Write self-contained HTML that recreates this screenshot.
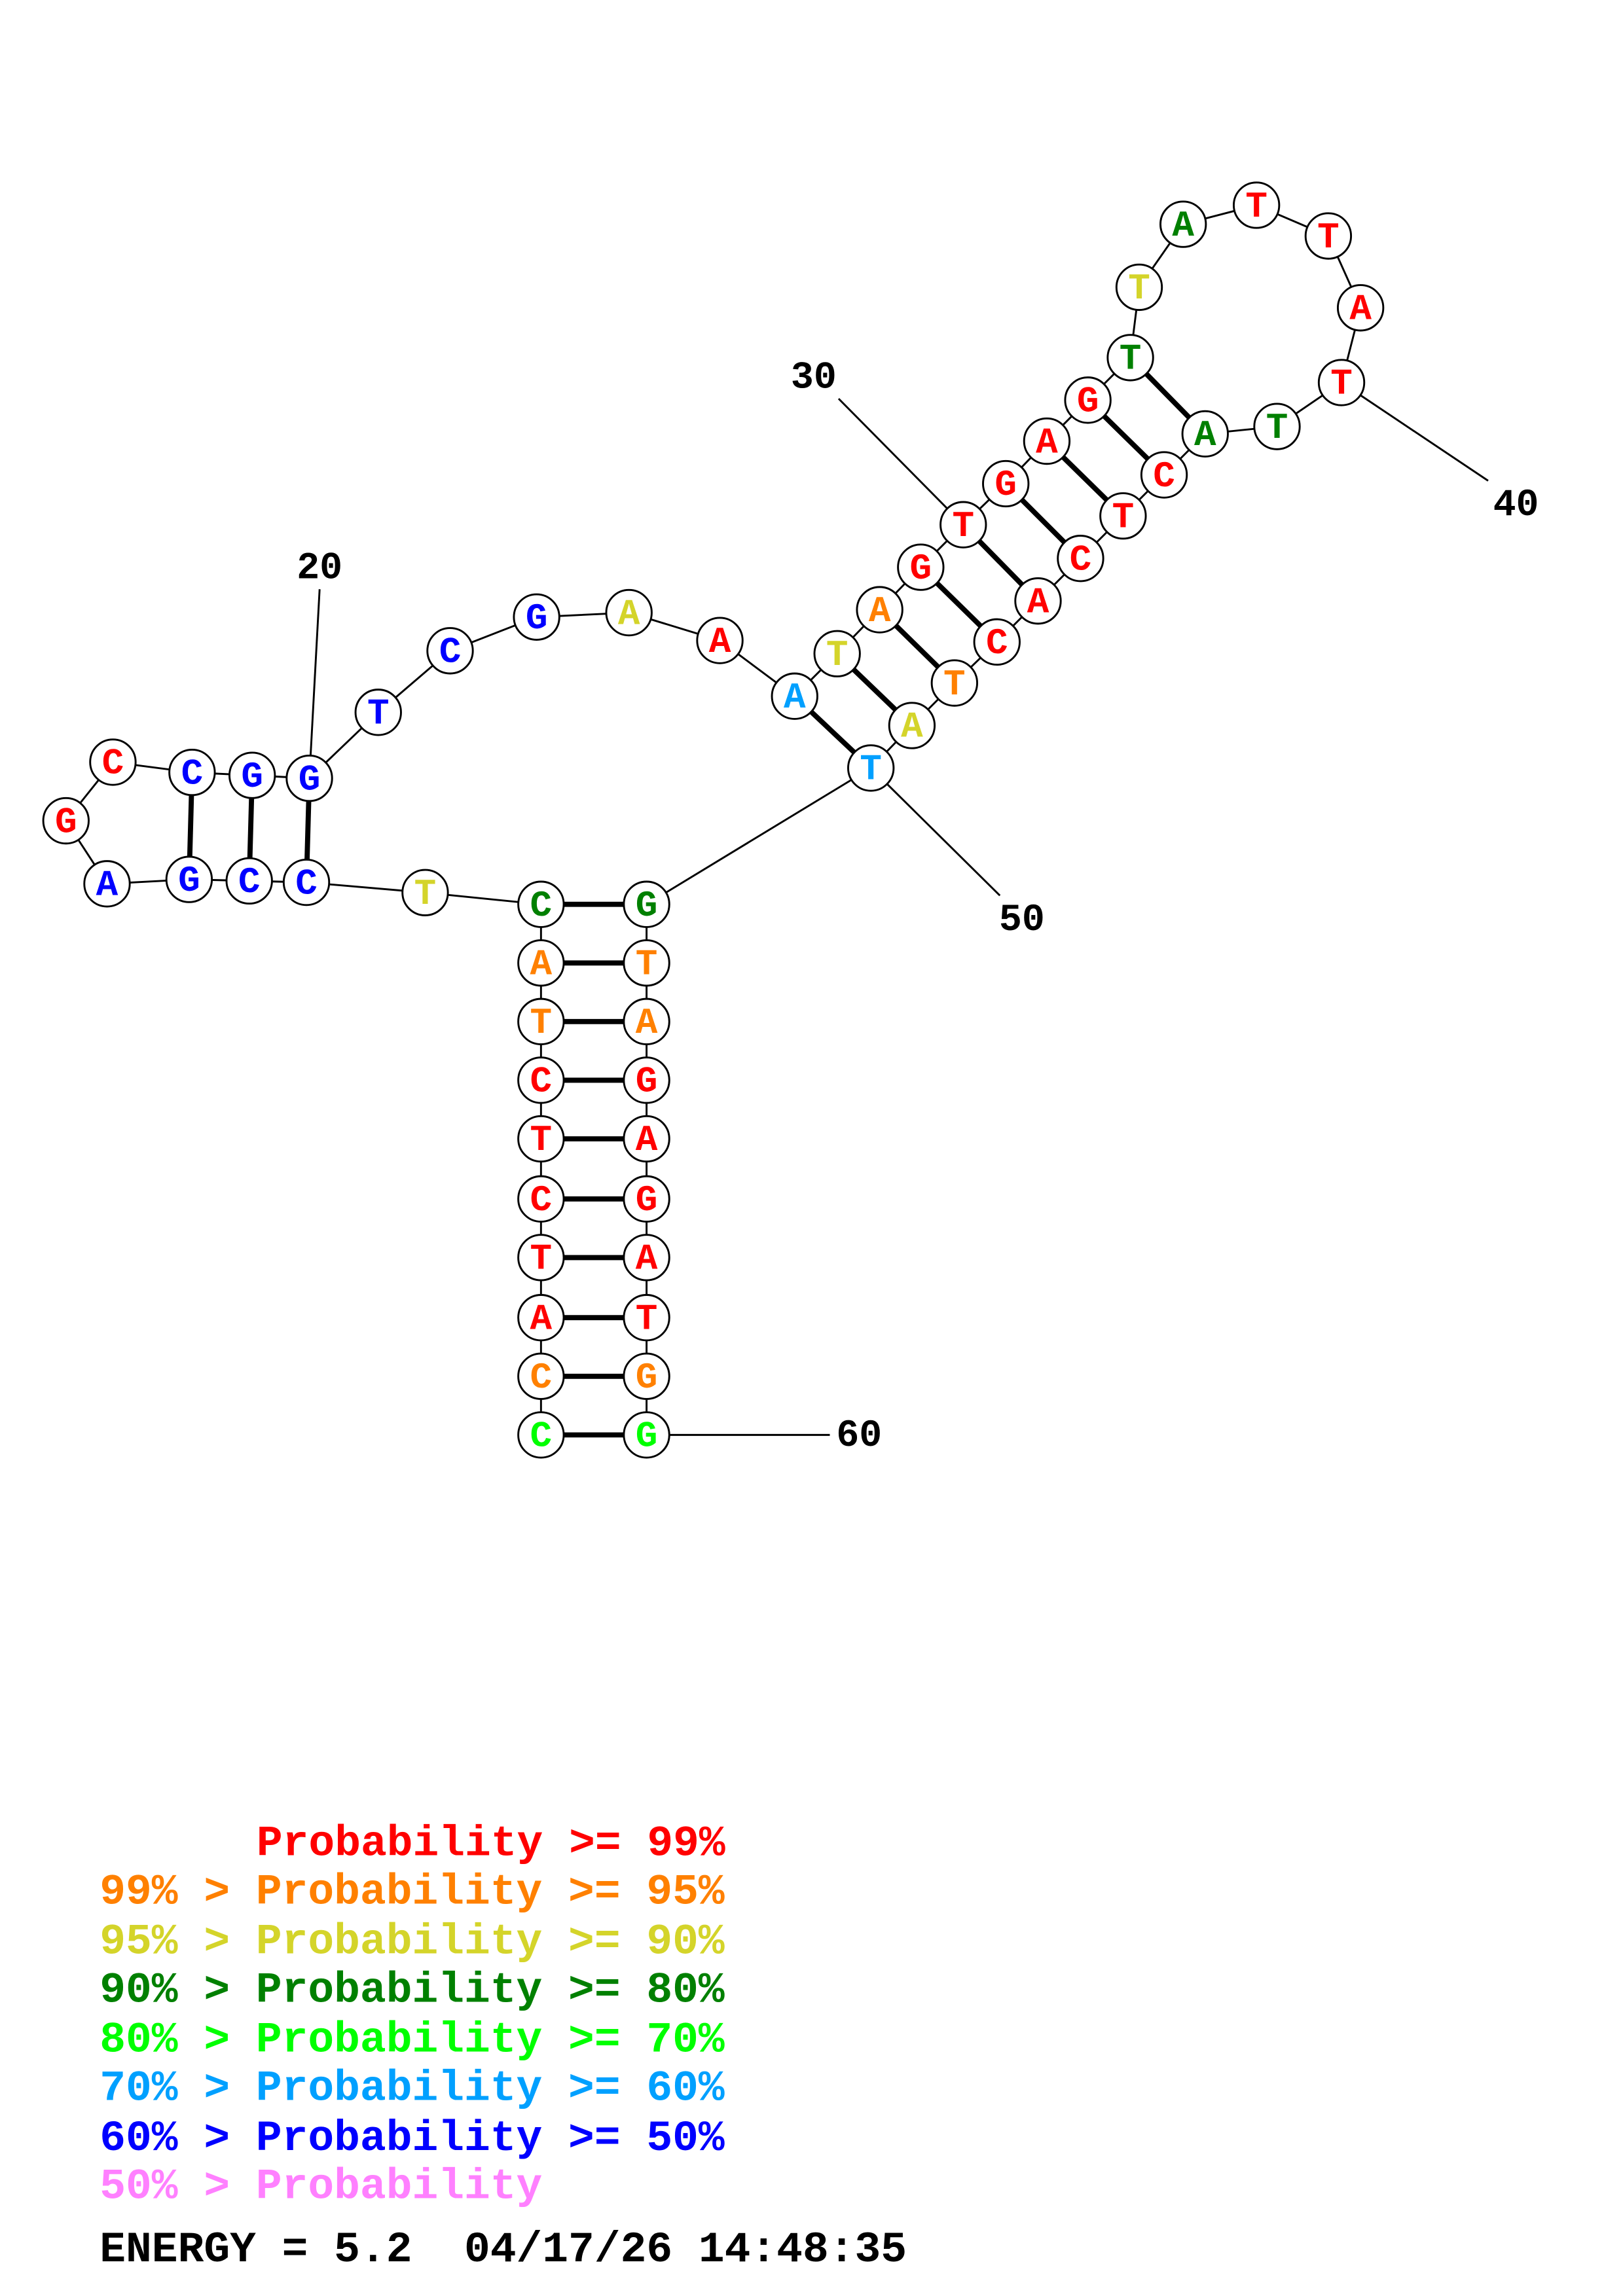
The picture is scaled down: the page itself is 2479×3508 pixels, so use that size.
<!DOCTYPE html>
<html><head><meta charset="utf-8"><style>html,body{margin:0;padding:0;background:#fff}svg{display:block}.pre{white-space:pre}</style></head><body>
<svg width="2479" height="3508" viewBox="0 0 1107 1566.5" xmlns="http://www.w3.org/2000/svg">
<g stroke="#000" fill="none" stroke-width="1.3">
<polyline points="369,979 369,939 369,899 369,858 369,818 369,777 369,737 369,697 369,657 369,617 290,609 209,602 170,601 129,600 73,603 45,560 77,520 131,527 172,529 211,531 258,486 307,444 366,421 429,418 491,437 542,475 571,446 600,416 628,387 657,358 686,330 714,301 742,273 771,244 777,196 807,153 857,140 906,161 928,210 915,261 871,291 822,296 794,324 766,352 737,381 708,410 680,438 651,466 622,495 594,524 441,617 441,657 441,697 441,737 441,777 441,818 441,858 441,899 441,939 441,979"/>
<line x1="218" y1="402" x2="211" y2="531"/>
<line x1="572" y1="272" x2="657" y2="358"/>
<line x1="915" y1="261" x2="1015" y2="328"/>
<line x1="594" y1="524" x2="682" y2="611"/>
<line x1="441" y1="979" x2="566" y2="979"/>
</g>
<g stroke="#000" stroke-width="3.5">
<line x1="369" y1="979" x2="441" y2="979"/><line x1="369" y1="939" x2="441" y2="939"/>
<line x1="369" y1="899" x2="441" y2="899"/><line x1="369" y1="858" x2="441" y2="858"/>
<line x1="369" y1="818" x2="441" y2="818"/><line x1="369" y1="777" x2="441" y2="777"/>
<line x1="369" y1="737" x2="441" y2="737"/><line x1="369" y1="697" x2="441" y2="697"/>
<line x1="369" y1="657" x2="441" y2="657"/><line x1="369" y1="617" x2="441" y2="617"/>
<line x1="209" y1="602" x2="211" y2="531"/><line x1="170" y1="601" x2="172" y2="529"/><line x1="129" y1="600" x2="131" y2="527"/>
<line x1="542" y1="475" x2="594" y2="524"/><line x1="571" y1="446" x2="622" y2="495"/>
<line x1="600" y1="416" x2="651" y2="466"/><line x1="628" y1="387" x2="680" y2="438"/>
<line x1="657" y1="358" x2="708" y2="410"/><line x1="686" y1="330" x2="737" y2="381"/>
<line x1="714" y1="301" x2="766" y2="352"/><line x1="742" y1="273" x2="794" y2="324"/>
<line x1="771" y1="244" x2="822" y2="296"/>
</g>
<g fill="#fff" stroke="#000" stroke-width="1.3">
<circle cx="369" cy="979" r="15.5"/><circle cx="369" cy="939" r="15.5"/><circle cx="369" cy="899" r="15.5"/><circle cx="369" cy="858" r="15.5"/><circle cx="369" cy="818" r="15.5"/><circle cx="369" cy="777" r="15.5"/><circle cx="369" cy="737" r="15.5"/><circle cx="369" cy="697" r="15.5"/><circle cx="369" cy="657" r="15.5"/><circle cx="369" cy="617" r="15.5"/>
<circle cx="290" cy="609" r="15.5"/><circle cx="209" cy="602" r="15.5"/><circle cx="170" cy="601" r="15.5"/><circle cx="129" cy="600" r="15.5"/><circle cx="73" cy="603" r="15.5"/><circle cx="45" cy="560" r="15.5"/><circle cx="77" cy="520" r="15.5"/><circle cx="131" cy="527" r="15.5"/><circle cx="172" cy="529" r="15.5"/><circle cx="211" cy="531" r="15.5"/>
<circle cx="258" cy="486" r="15.5"/><circle cx="307" cy="444" r="15.5"/><circle cx="366" cy="421" r="15.5"/><circle cx="429" cy="418" r="15.5"/><circle cx="491" cy="437" r="15.5"/><circle cx="542" cy="475" r="15.5"/><circle cx="571" cy="446" r="15.5"/><circle cx="600" cy="416" r="15.5"/><circle cx="628" cy="387" r="15.5"/><circle cx="657" cy="358" r="15.5"/>
<circle cx="686" cy="330" r="15.5"/><circle cx="714" cy="301" r="15.5"/><circle cx="742" cy="273" r="15.5"/><circle cx="771" cy="244" r="15.5"/><circle cx="777" cy="196" r="15.5"/><circle cx="807" cy="153" r="15.5"/><circle cx="857" cy="140" r="15.5"/><circle cx="906" cy="161" r="15.5"/><circle cx="928" cy="210" r="15.5"/><circle cx="915" cy="261" r="15.5"/>
<circle cx="871" cy="291" r="15.5"/><circle cx="822" cy="296" r="15.5"/><circle cx="794" cy="324" r="15.5"/><circle cx="766" cy="352" r="15.5"/><circle cx="737" cy="381" r="15.5"/><circle cx="708" cy="410" r="15.5"/><circle cx="680" cy="438" r="15.5"/><circle cx="651" cy="466" r="15.5"/><circle cx="622" cy="495" r="15.5"/><circle cx="594" cy="524" r="15.5"/>
<circle cx="441" cy="617" r="15.5"/><circle cx="441" cy="657" r="15.5"/><circle cx="441" cy="697" r="15.5"/><circle cx="441" cy="737" r="15.5"/><circle cx="441" cy="777" r="15.5"/><circle cx="441" cy="818" r="15.5"/><circle cx="441" cy="858" r="15.5"/><circle cx="441" cy="899" r="15.5"/><circle cx="441" cy="939" r="15.5"/><circle cx="441" cy="979" r="15.5"/>
</g>
<g font-family="Liberation Mono, monospace" font-weight="bold" font-size="25" text-anchor="middle" dominant-baseline="central">
<text x="369" y="980" fill="#00ff00">C</text><text x="369" y="940" fill="#ff8000">C</text><text x="369" y="900" fill="#ff0000">A</text><text x="369" y="859" fill="#ff0000">T</text><text x="369" y="819" fill="#ff0000">C</text><text x="369" y="778" fill="#ff0000">T</text><text x="369" y="738" fill="#ff0000">C</text><text x="369" y="698" fill="#ff8000">T</text><text x="369" y="658" fill="#ff8000">A</text><text x="369" y="618" fill="#008000">C</text>
<text x="290" y="610" fill="#d4d42a">T</text><text x="209" y="603" fill="#0000ff">C</text><text x="170" y="602" fill="#0000ff">C</text><text x="129" y="601" fill="#0000ff">G</text><text x="73" y="604" fill="#0000ff">A</text><text x="45" y="561" fill="#ff0000">G</text><text x="77" y="521" fill="#ff0000">C</text><text x="131" y="528" fill="#0000ff">C</text><text x="172" y="530" fill="#0000ff">G</text><text x="211" y="532" fill="#0000ff">G</text>
<text x="258" y="487" fill="#0000ff">T</text><text x="307" y="445" fill="#0000ff">C</text><text x="366" y="422" fill="#0000ff">G</text><text x="429" y="419" fill="#d4d42a">A</text><text x="491" y="438" fill="#ff0000">A</text><text x="542" y="476" fill="#00a0ff">A</text><text x="571" y="447" fill="#d4d42a">T</text><text x="600" y="417" fill="#ff8000">A</text><text x="628" y="388" fill="#ff0000">G</text><text x="657" y="359" fill="#ff0000">T</text>
<text x="686" y="331" fill="#ff0000">G</text><text x="714" y="302" fill="#ff0000">A</text><text x="742" y="274" fill="#ff0000">G</text><text x="771" y="245" fill="#008000">T</text><text x="777" y="197" fill="#d4d42a">T</text><text x="807" y="154" fill="#008000">A</text><text x="857" y="141" fill="#ff0000">T</text><text x="906" y="162" fill="#ff0000">T</text><text x="928" y="211" fill="#ff0000">A</text><text x="915" y="262" fill="#ff0000">T</text>
<text x="871" y="292" fill="#008000">T</text><text x="822" y="297" fill="#008000">A</text><text x="794" y="325" fill="#ff0000">C</text><text x="766" y="353" fill="#ff0000">T</text><text x="737" y="382" fill="#ff0000">C</text><text x="708" y="411" fill="#ff0000">A</text><text x="680" y="439" fill="#ff0000">C</text><text x="651" y="467" fill="#ff8000">T</text><text x="622" y="496" fill="#d4d42a">A</text><text x="594" y="525" fill="#00a0ff">T</text>
<text x="441" y="618" fill="#008000">G</text><text x="441" y="658" fill="#ff8000">T</text><text x="441" y="698" fill="#ff8000">A</text><text x="441" y="738" fill="#ff0000">G</text><text x="441" y="778" fill="#ff0000">A</text><text x="441" y="819" fill="#ff0000">G</text><text x="441" y="859" fill="#ff0000">A</text><text x="441" y="900" fill="#ff0000">T</text><text x="441" y="940" fill="#ff8000">G</text><text x="441" y="980" fill="#00ff00">G</text>
</g>
<g font-family="Liberation Mono, monospace" font-weight="bold" font-size="26" text-anchor="middle" dominant-baseline="central" fill="#000">
<text x="218" y="388">20</text><text x="555" y="258">30</text><text x="1034" y="345">40</text><text x="697" y="628">50</text><text x="586" y="980">60</text>
</g>
<g font-family="Liberation Mono, monospace" font-weight="bold" font-size="29.6" dominant-baseline="central">
<text class="pre" x="175" y="1258" fill="#ff0000">Probability &gt;= 99%</text>
<text class="pre" x="68" y="1291" fill="#ff8000">99% &gt; Probability &gt;= 95%</text>
<text class="pre" x="68" y="1325" fill="#d4d42a">95% &gt; Probability &gt;= 90%</text>
<text class="pre" x="68" y="1358" fill="#008000">90% &gt; Probability &gt;= 80%</text>
<text class="pre" x="68" y="1392" fill="#00ff00">80% &gt; Probability &gt;= 70%</text>
<text class="pre" x="68" y="1425" fill="#00a0ff">70% &gt; Probability &gt;= 60%</text>
<text class="pre" x="68" y="1459" fill="#0000ff">60% &gt; Probability &gt;= 50%</text>
<text class="pre" x="68" y="1492" fill="#ff80ff">50% &gt; Probability</text>
<text class="pre" x="68" y="1535" fill="#000">ENERGY = 5.2  04/17/26 14:48:35</text>
</g>
</svg>
</body></html>
